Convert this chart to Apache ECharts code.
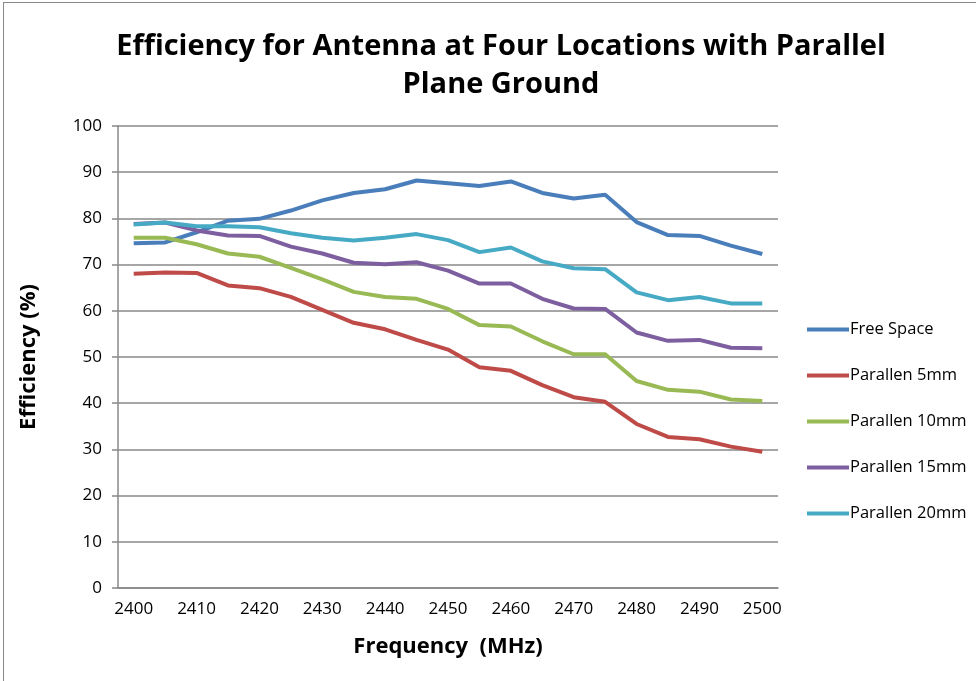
<!DOCTYPE html>
<html>
<head>
<meta charset="utf-8">
<script src="https://cdn.jsdelivr.net/npm/echarts@6/dist/echarts.min.js"></script>
<style>
  html, body { margin: 0; padding: 0; background: #fff; }
  #chart { width: 976px; height: 681px; position: relative; }
  #frame { position: absolute; left: 3px; top: 2px; width: 980px; height: 690px; border-left: 1px solid #888; border-top: 1px solid #888; pointer-events: none; }
</style>
</head>
<body>
<div id="chart"></div>
<div id="frame"></div>
<script>
var frequency = [2400, 2405, 2410, 2415, 2420, 2425, 2430, 2435, 2440, 2445, 2450,
  2455, 2460, 2465, 2470, 2475, 2480, 2485, 2490, 2495, 2500];

var freeSpace = [74.6, 74.8, 77.0, 79.5, 79.9, 81.7, 83.9, 85.5, 86.3, 88.2, 87.6,
  87.0, 88.0, 85.5, 84.3, 85.1, 79.2, 76.4, 76.2, 74.1, 72.3];
var parallen5 = [68.0, 68.3, 68.2, 65.5, 64.9, 63.0, 60.2, 57.4, 56.0, 53.7, 51.6,
  47.8, 47.0, 43.9, 41.3, 40.3, 35.5, 32.7, 32.2, 30.6, 29.5];
var parallen10 = [75.8, 75.8, 74.4, 72.4, 71.7, 69.3, 66.8, 64.1, 63.0, 62.6, 60.4,
  56.9, 56.6, 53.4, 50.6, 50.6, 44.8, 42.9, 42.5, 40.8, 40.5];
var parallen15 = [78.8, 79.1, 77.4, 76.3, 76.2, 73.9, 72.4, 70.4, 70.1, 70.5, 68.7,
  65.9, 65.9, 62.6, 60.5, 60.4, 55.3, 53.5, 53.7, 52.0, 51.9];
var parallen20 = [78.7, 79.1, 78.3, 78.3, 78.1, 76.8, 75.8, 75.2, 75.8, 76.6, 75.3,
  72.7, 73.7, 70.7, 69.2, 69.0, 64.0, 62.3, 63.0, 61.6, 61.6];

var seriesNames = ["Free Space", "Parallen 5mm", "Parallen 10mm", "Parallen 15mm", "Parallen 20mm"];
var seriesColors = ["#4A7EBB", "#BE4B48", "#98B954", "#7D5FA0", "#46AAC5"];
var seriesData = [freeSpace, parallen5, parallen10, parallen15, parallen20];

var font = "'Open Sans', 'Noto Sans', sans-serif";

var chart = echarts.init(document.getElementById("chart"), null, { renderer: "canvas" });

var option = {
  animation: false,
  backgroundColor: "#fff",
  title: {
    text: "Efficiency for Antenna at Four Locations with Parallel\nPlane Ground",
    left: 496,
    top: 23,
    textAlign: "center",
    textStyle: {
      fontFamily: font,
      fontWeight: "bold",
      fontSize: 29,
      lineHeight: 38,
      color: "#000",
    },
  },
  legend: {
    orient: "vertical",
    left: 802,
    top: 316,
    itemGap: 29,
    itemWidth: 42,
    itemHeight: 20,
    icon: "path://M0,8 L42,8 L42,12 L0,12 Z",
    data: seriesNames,
    textStyle: {
      fontFamily: font,
      fontSize: 16.5,
      color: "#000",
      padding: [0, 0, 0, -4],
    },
  },
  grid: {
    left: 118,
    right: 198,
    top: 126,
    bottom: 93,
  },
  xAxis: {
    type: "category",
    data: frequency,
    boundaryGap: true,
    name: "Frequency  (MHz)",
    nameLocation: "middle",
    nameGap: 48,
    nameTextStyle: {
      fontFamily: font,
      fontWeight: "bold",
      fontSize: 22,
      color: "#000",
    },
    axisLine: { lineStyle: { color: "#888", width: 1.5 } },
    axisTick: { show: false },
    axisLabel: {
      interval: 1,
      margin: 13,
      fontFamily: font,
      fontSize: 17,
      color: "#000",
    },
  },
  yAxis: {
    type: "value",
    min: 0,
    max: 100,
    interval: 10,
    name: "Efficiency (%)",
    nameLocation: "middle",
    nameGap: 78,
    nameTextStyle: {
      fontFamily: font,
      fontWeight: "bold",
      fontSize: 22,
      color: "#000",
    },
    axisLine: { show: true, lineStyle: { color: "#888", width: 1.5 } },
    axisTick: { show: true, length: 6, lineStyle: { color: "#888", width: 1.5 } },
    axisLabel: {
      margin: 16,
      fontFamily: font,
      fontSize: 17,
      color: "#000",
    },
    splitLine: { lineStyle: { color: "#888", width: 1.5 } },
  },
  series: seriesNames.map(function (name, i) {
    return {
      name: name,
      type: "line",
      data: seriesData[i],
      color: seriesColors[i],
      symbol: "none",
      lineStyle: { width: 4, color: seriesColors[i] },
    };
  }),
};

chart.setOption(option);
</script>
</body>
</html>
